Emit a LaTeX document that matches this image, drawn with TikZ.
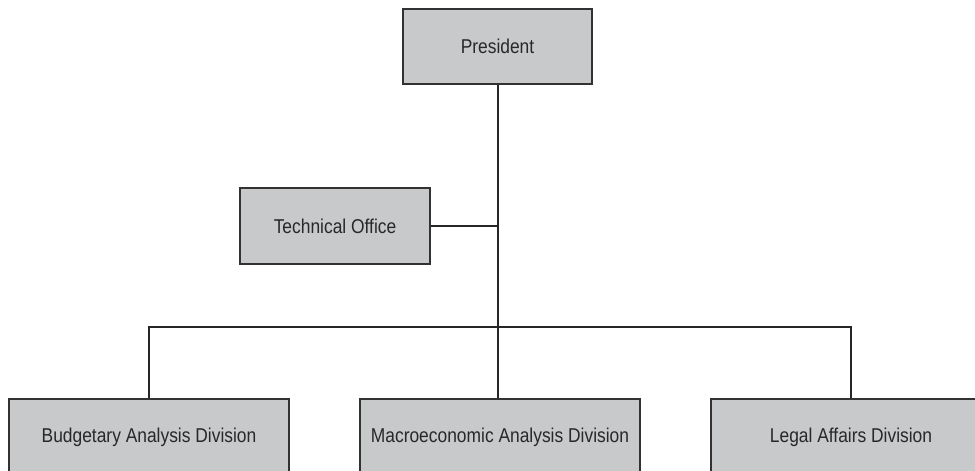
\documentclass[tikz,border=0pt]{standalone}
\usepackage{fontspec}
\setmainfont[FakeStretch=0.87]{Liberation Sans}
\usepackage{tikz}
\definecolor{boxgray}{RGB}{200,201,203}
\definecolor{edgegray}{RGB}{50,50,50}
\definecolor{textgray}{RGB}{40,40,40}
\tikzstyle{office} = [rectangle, text centered, draw=edgegray, line width=1.2pt, fill=boxgray, text=textgray, font=\fontsize{20}{23}\selectfont, inner sep=0pt]
\tikzstyle{division} = [office, minimum width=280pt, minimum height=76pt]
\tikzstyle{link} = [line width=1.6pt, draw=black!85]

\begin{document}
\begin{tikzpicture}[x=1pt, y=-1pt]
\useasboundingbox (0,0) rectangle (975,471);
\clip (0,0) rectangle (975,471);

\node (president) [office, minimum width=189pt, minimum height=75pt] at (497.5,46.5) {President};
\node (techoffice) [office, minimum width=190pt, minimum height=76pt] at (335,226) {Technical Office};

\node (budget) [division] at (149,437) {Budgetary Analysis Division};
\node (macro) [division] at (500,437) {Macroeconomic Analysis Division};
\node (legal) [division] at (851,437) {Legal Affairs Division};

\coordinate (bus) at (498,327);

\draw [link] (president.south -| bus) -- (bus);
\draw [link] (techoffice.east) -- (techoffice.east -| bus);
\draw [link] (budget.north) |- (bus) -| (legal.north);
\draw [link] (bus) -- (macro.north -| bus);

\end{tikzpicture}
\end{document}
